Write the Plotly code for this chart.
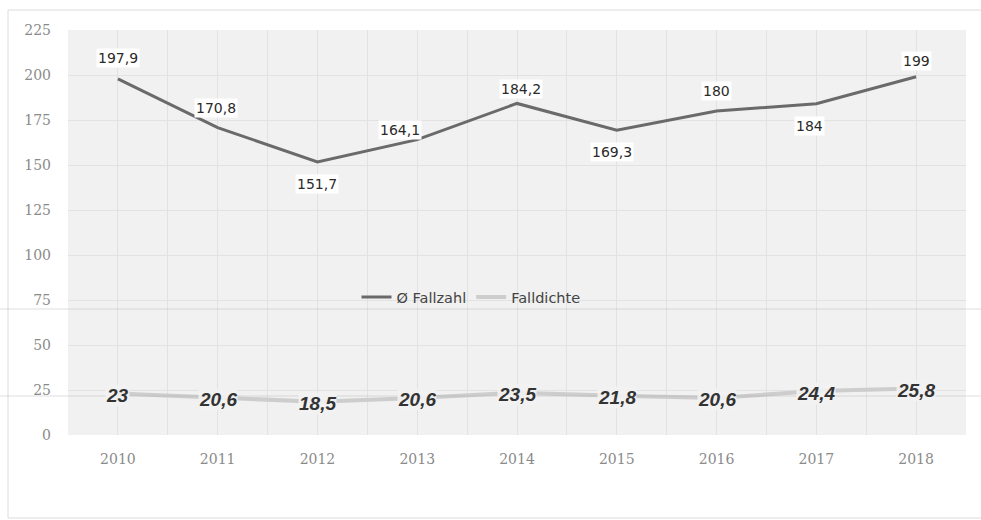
import plotly.graph_objects as go

years = [2010, 2011, 2012, 2013, 2014, 2015, 2016, 2017, 2018]
fallzahl = [197.9, 170.8, 151.7, 164.1, 184.2, 169.3, 180, 184, 199]
falldichte = [23, 20.6, 18.5, 20.6, 23.5, 21.8, 20.6, 24.4, 25.8]
y_ticks = [0, 25, 50, 75, 100, 125, 150, 175, 200, 225]

# label offsets (px) for the Fallzahl data labels
fz_shift = [(0, 21), (-2, 20), (0, -22), (-17, 10), (4, 14), (-5, -22), (0, 20), (-7, -22), (0, 16)]


def fmt(v):
    return f"{v:g}".replace(".", ",")


fig = go.Figure()
fig.add_trace(go.Scatter(
    x=years, y=fallzahl, mode="lines", name="Ø Fallzahl",
    line=dict(color="#6a6a6a", width=3), hoverinfo="skip"))
fig.add_trace(go.Scatter(
    x=years, y=falldichte, mode="lines", name="Falldichte",
    line=dict(color="#cdcdcd", width=4), hoverinfo="skip"))

annotations = []
for x, v, (dx, dy) in zip(years, fallzahl, fz_shift):
    annotations.append(dict(
        x=x, y=v, xref="x", yref="y", text=fmt(v), showarrow=False,
        xshift=dx, yshift=dy, bgcolor="#ffffff", borderpad=1,
        font=dict(family="DejaVu Sans", size=14, color="#2a2a2a")))
for x, v in zip(years, falldichte):
    annotations.append(dict(
        x=x, y=v, xref="x", yref="y", text=fmt(v), showarrow=False,
        yshift=-2, bgcolor="rgba(242,242,242,0.9)", borderpad=0,
        font=dict(family="Liberation Sans", size=19, color="#333333",
                  weight="bold", style="italic")))

W0, W = 68, 898
H0, H = 435, 405


def px(v):
    return (v - W0) / W


def py(v):
    return (H0 - v) / H


shapes = [
    dict(type="rect", xref="paper", yref="paper", x0=px(8), x1=px(990), y0=py(518), y1=py(10),
         line=dict(color="#dcdcdc", width=1), layer="below"),
    dict(type="line", xref="paper", yref="paper", x0=px(0), x1=px(981), y0=py(309), y1=py(309),
         line=dict(color="#b0b0b0", width=1), opacity=0.4),
    dict(type="line", xref="paper", yref="paper", x0=px(0), x1=px(981), y0=py(396), y1=py(396),
         line=dict(color="#b0b0b0", width=1), opacity=0.4),
]

fig.update_layout(
    width=981, height=520,
    margin=dict(l=68, r=15, t=30, b=85),
    paper_bgcolor="#ffffff",
    plot_bgcolor="#f1f1f1",
    showlegend=True,
    legend=dict(orientation="h", x=px(471), y=py(297), xanchor="center", yanchor="middle",
                bgcolor="rgba(0,0,0,0)", font=dict(family="DejaVu Sans", size=14.5, color="#444444"),
                itemwidth=30, tracegroupgap=0),
    annotations=annotations,
    shapes=shapes,
    xaxis=dict(range=[2009.5, 2018.5], tickmode="array", tickvals=years,
               ticktext=[str(y) for y in years], showgrid=True, gridcolor="#e2e2e2",
               zeroline=False, showline=False, ticks="", ticklabelstandoff=14,
               minor=dict(tickvals=[y + 0.5 for y in years[:-1]], showgrid=True,
                          gridcolor="#e2e2e2", ticks=""),
               tickfont=dict(family="DejaVu Serif", size=14, color="#8a8a8a")),
    yaxis=dict(range=[0, 225], tickmode="array", tickvals=y_ticks,
               showgrid=True, gridcolor="#e2e2e2", zeroline=False, showline=False,
               ticks="", ticklabelstandoff=16,
               tickfont=dict(family="DejaVu Serif", size=14, color="#8a8a8a")),
)

fig.write_html("out.html")
